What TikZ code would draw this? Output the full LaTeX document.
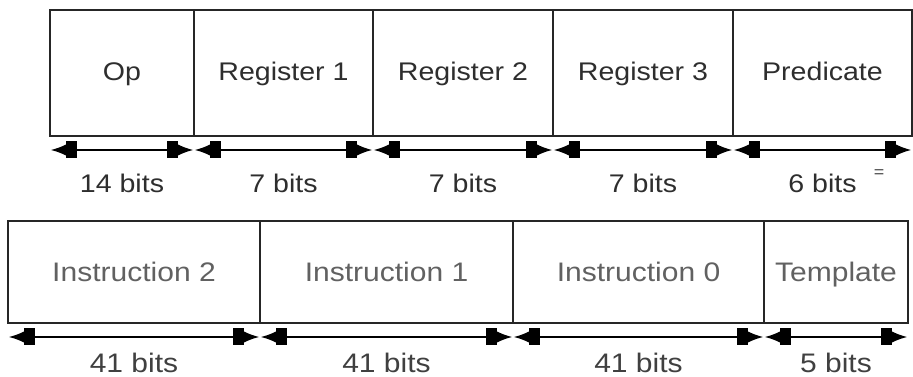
\documentclass[tikz,border=0pt]{standalone}
\usepackage{fontspec}
\setmainfont{Liberation Sans}[FakeStretch=1.12]
\usetikzlibrary{arrows.meta}
\begin{document}
\begin{tikzpicture}[x=1pt,y=1pt,
  field/.style={draw=black!85, line width=1.6pt, rectangle, inner sep=0pt, outer sep=0pt, anchor=south west, font=\fontsize{25.5}{30}\selectfont, text=black!82, text height=16pt, text depth=0pt},
  lowfield/.style={field, font=\fontsize{26.8}{31}\selectfont, text=black!62, text height=19.2pt},
  dimtip/.tip={Rectangle[length=11pt,width=17pt] Latex[length=15pt,width=11pt]},
  dim/.style={line width=1.3pt, black, {dimtip}-{dimtip}, arrows={[sep=0pt]}},
  bitlabel/.style={font=\fontsize{25.5}{30}\selectfont, text=black!82, inner sep=0pt},
  lowbitlabel/.style={font=\fontsize{26.8}{31}\selectfont, text=black!75, inner sep=0pt}]
\useasboundingbox (0,0) rectangle (913,377);
% top row
\node[field, minimum width=144pt, minimum height=126pt] (op) at (50,241) {Op};
\node[field, minimum width=179pt, minimum height=126pt] (r1) at (194,241) {Register 1};
\node[field, minimum width=180pt, minimum height=126pt] (r2) at (373,241) {Register 2};
\node[field, minimum width=180pt, minimum height=126pt] (r3) at (553,241) {Register 3};
\node[field, minimum width=179pt, minimum height=126pt] (pr) at (733,241) {Predicate};
\foreach \n in {op,r1,r2,r3,pr}{
  \draw[dim, shorten <=0.8pt, shorten >=0.8pt] ([yshift=-14pt]\n.south west) -- ([yshift=-14pt]\n.south east);
}
\node[bitlabel] (lop) at ([yshift=-47pt]op.south) {14 bits};
\node[bitlabel] (lr1) at ([yshift=-47pt]r1.south) {7 bits};
\node[bitlabel] (lr2) at ([yshift=-47pt]r2.south) {7 bits};
\node[bitlabel] (lr3) at ([yshift=-47pt]r3.south) {7 bits};
\node[bitlabel] (lpr) at ([yshift=-47pt]pr.south) {6 bits};
\node[font=\fontsize{16}{18}\selectfont, text=black!75, inner sep=0pt] (eq) at (879,203) {=};
% bottom row
\node[lowfield, minimum width=252pt, minimum height=102pt] (i2) at (8,54) {Instruction 2};
\node[lowfield, minimum width=253pt, minimum height=102pt] (i1) at (260,54) {Instruction 1};
\node[lowfield, minimum width=251pt, minimum height=102pt] (i0) at (513,54) {Instruction 0};
\node[lowfield, minimum width=144pt, minimum height=102pt] (tp) at (764,54) {Template};
\foreach \n in {i2,i1,i0,tp}{
  \draw[dim, shorten <=0.8pt, shorten >=0.8pt] ([yshift=-14pt]\n.south west) -- ([yshift=-14pt]\n.south east);
}
\node[lowbitlabel] (li2) at ([yshift=-40pt]i2.south) {41 bits};
\node[lowbitlabel] (li1) at ([yshift=-40pt]i1.south) {41 bits};
\node[lowbitlabel] (li0) at ([yshift=-40pt]i0.south) {41 bits};
\node[lowbitlabel] (ltp) at ([yshift=-40pt]tp.south) {5 bits};
\end{tikzpicture}
\end{document}
